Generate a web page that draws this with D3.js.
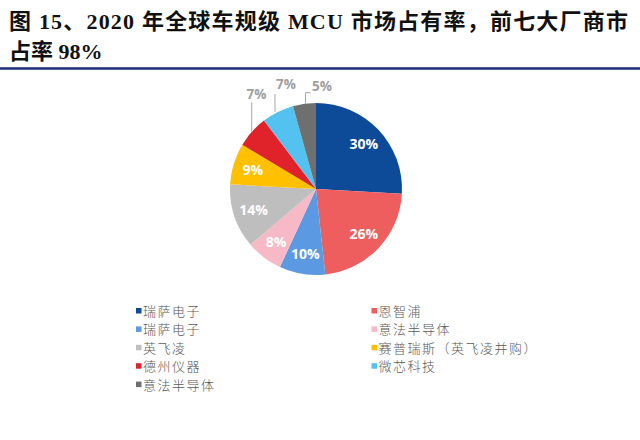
<!DOCTYPE html>
<html>
<head>
<meta charset="utf-8">
<script src="https://cdn.jsdelivr.net/npm/d3@7"></script>
<style>
  body { margin: 0; background: #fff; }
  svg { display: block; }
</style>
</head>
<body>
<div id="chart"></div>
<script>
// data
const categories = ['瑞萨电子', '恩智浦', '瑞萨电子', '意法半导体', '英飞凌', '赛普瑞斯（英飞凌并购）', '德州仪器', '微芯科技', '意法半导体'];
const shares = [30, 26, 10, 8, 14, 9, 7, 7, 5];
const shareLabels = ['30%', '26%', '10%', '8%', '14%', '9%', '7%', '7%', '5%'];
const colors = ['#0D4A98', '#EF5E5E', '#5B9AE2', '#F8B9C6', '#BEBEBE', '#FFC000', '#E0222A', '#53C2F0', '#6F6F6F'];
const titleLines = ['图 15、2020 年全球车规级 MCU 市场占有率，前七大厂商市', '占率 98%'];

const width = 640, height = 440;
const cx = 316, cy = 189, radius = 86;

const svg = d3.select('#chart')
  .append('svg')
  .attr('width', width)
  .attr('height', height);

// title
svg.selectAll('text.title')
  .data(titleLines)
  .enter()
  .append('text')
    .attr('class', 'title')
    .attr('x', 9)
    .attr('y', (d, i) => 29 + i * 30)
    .attr('font-family', '"Liberation Serif", "Noto Sans CJK SC", serif')
    .attr('font-weight', 700)
    .attr('font-size', 22)
    .attr('fill', '#111')
    .attr('textLength', (d, i) => i === 0 ? 619 : null)
    .attr('lengthAdjust', 'spacing')
    .text(d => d);

svg.append('line')
  .attr('x1', 0).attr('x2', width)
  .attr('y1', 68.5).attr('y2', 68.5)
  .attr('stroke', '#1C2A78')
  .attr('stroke-width', 2.5);

// pie
const pie = d3.pie().sort(null).value(d => d);
const arcs = pie(shares);

const arc = d3.arc().innerRadius(0).outerRadius(radius);
const labelArc = d3.arc().innerRadius(66).outerRadius(66);
const edgeArc = d3.arc().innerRadius(radius).outerRadius(radius);

const graph = svg.append('g')
  .attr('transform', `translate(${cx}, ${cy})`);

graph.selectAll('path.slice')
  .data(arcs)
  .enter()
  .append('path')
    .attr('class', 'slice')
    .attr('d', arc)
    .attr('fill', (d, i) => colors[i]);

// small slices get their labels outside, with leader lines
const outside = {
  6: { text: [-59.5, -89.7], anchor: 'middle', line: [[-64.3, -86.7]] },
  7: { text: [-30, -99.7], anchor: 'middle', line: [[-41, -95]] },
  8: { text: [-4, -98.3], anchor: 'start', line: [[-10.5, -96.3], [-5.5, -96.3]] }
};

arcs.forEach((d, i) => {
  const o = outside[i];
  if (o) {
    const e = edgeArc.centroid(d);
    const start = [o.line[0][0], e[1]];
    graph.append('path')
      .attr('d', d3.line()([start].concat(o.line)))
      .attr('fill', 'none')
      .attr('stroke', '#A6A6A6')
      .attr('stroke-width', 1);
    graph.append('text')
      .attr('x', o.text[0])
      .attr('y', o.text[1])
      .attr('text-anchor', o.anchor)
      .attr('font-family', '"Open Sans", "Liberation Sans", sans-serif')
      .attr('font-weight', 700)
      .attr('font-size', 13.5)
      .attr('fill', '#A0A0A0')
      .text(shareLabels[i]);
  } else {
    const c = labelArc.centroid(d);
    graph.append('text')
      .attr('x', c[0])
      .attr('y', c[1])
      .attr('dy', '0.36em')
      .attr('text-anchor', 'middle')
      .attr('font-family', '"Open Sans", "Liberation Sans", sans-serif')
      .attr('font-weight', 700)
      .attr('font-size', 14)
      .attr('fill', '#fff')
      .text(shareLabels[i]);
  }
});

// legend, two columns filled row by row
const legend = svg.append('g');
const items = legend.selectAll('g.item')
  .data(categories)
  .enter()
  .append('g')
    .attr('class', 'item')
    .attr('transform', (d, i) => `translate(${i % 2 === 0 ? 136 : 371.5}, ${311 + Math.floor(i / 2) * 18.4})`);

items.append('rect')
  .attr('x', 0)
  .attr('y', -3)
  .attr('width', 5.5)
  .attr('height', 5.5)
  .attr('fill', (d, i) => colors[i]);

items.append('text')
  .attr('x', 7)
  .attr('y', 0)
  .attr('dy', '0.38em')
  .attr('font-family', '"Noto Sans CJK SC", sans-serif')
  .attr('font-weight', 300)
  .attr('font-size', 13)
  .attr('letter-spacing', 1.5)
  .attr('fill', '#595959')
  .text(d => d);
</script>
</body>
</html>
